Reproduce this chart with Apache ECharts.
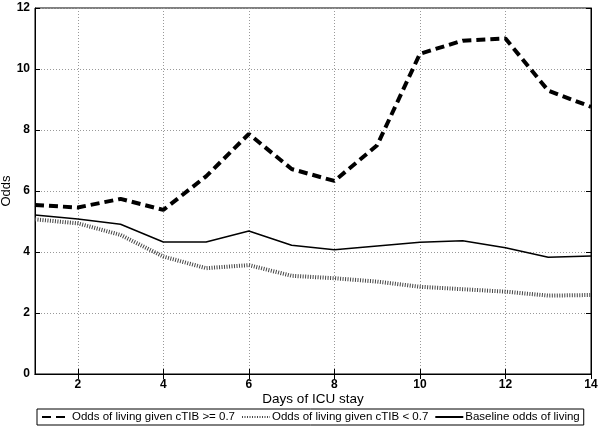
<!DOCTYPE html>
<html>
<head>
<meta charset="utf-8">
<script src="https://cdn.jsdelivr.net/npm/echarts@6/dist/echarts.min.js"></script>
<style>
  html, body { margin: 0; padding: 0; background: #fff; }
  #chart { width: 600px; height: 427px; }
</style>
</head>
<body>
<div id="chart"></div>
<script>
// days on the x axis
var days = [1, 2, 3, 4, 5, 6, 7, 8, 9, 10, 11, 12, 13, 14];
// odds of living
var oddsHigh = [5.54, 5.46, 5.74, 5.38, 6.48, 7.87, 6.72, 6.33, 7.5, 10.5, 10.93, 11.0, 9.29, 8.76];
var oddsLow = [5.07, 4.94, 4.56, 3.85, 3.47, 3.57, 3.22, 3.14, 3.03, 2.86, 2.78, 2.7, 2.57, 2.59];
var oddsBase = [5.21, 5.08, 4.91, 4.33, 4.33, 4.69, 4.22, 4.07, 4.2, 4.32, 4.37, 4.14, 3.83, 3.87];
var seriesNames = [
  "Odds of living given cTIB >= 0.7",
  "Odds of living given cTIB < 0.7",
  "Baseline odds of living"
];

var font = "Liberation Sans";
var evenOnly = function (i, v) { return Number(v) % 2 === 0; };

var chart = echarts.init(document.getElementById("chart"));
chart.setOption({
  animation: false,
  textStyle: { fontFamily: font, color: "#000" },
  grid: {
    left: 35, right: 9, top: 8, bottom: 53,
    containLabel: false,
    outerBoundsMode: "none",
    show: true, borderColor: "#000", borderWidth: 1
  },
  legend: {
    left: 37, bottom: 2,
    padding: [2, 4, 2, 4],
    borderColor: "#000", borderWidth: 1,
    itemGap: 6, itemWidth: 28, itemHeight: 10,
    itemStyle: { opacity: 0 },
    textStyle: { fontFamily: font, fontSize: 11.5, color: "#000", padding: [0, 0, 0, -3] },
    data: seriesNames
  },
  xAxis: [
    {
      type: "category",
      data: days,
      boundaryGap: false,
      name: "Days of ICU stay",
      nameLocation: "middle",
      nameGap: 18,
      nameMoveOverlap: false,
      nameTextStyle: { fontFamily: font, fontSize: 13.5, color: "#000" },
      axisLine: { lineStyle: { color: "#000" } },
      axisTick: { inside: true, length: 5, interval: evenOnly, lineStyle: { color: "#000" } },
      axisLabel: { interval: evenOnly, color: "#000", fontSize: 12, fontWeight: "bold", margin: 5 },
      splitLine: { show: true, interval: evenOnly, lineStyle: { color: "#999", type: [1, 2] } }
    },
    {
      type: "category",
      data: days,
      boundaryGap: false,
      position: "top",
      axisLine: { lineStyle: { color: "#000" } },
      axisTick: { inside: true, length: 5, interval: evenOnly, lineStyle: { color: "#000" } },
      axisLabel: { show: false },
      splitLine: { show: false }
    }
  ],
  yAxis: [
    {
      type: "value",
      min: 0, max: 12, interval: 2,
      name: "Odds",
      nameLocation: "middle",
      nameGap: 22,
      nameMoveOverlap: false,
      nameTextStyle: { fontFamily: font, fontSize: 13, color: "#000" },
      axisLine: { show: true, lineStyle: { color: "#000" } },
      axisTick: { show: true, inside: true, length: 5, lineStyle: { color: "#000" } },
      axisLabel: { color: "#000", fontSize: 12, fontWeight: "bold", margin: 5 },
      splitLine: { show: true, lineStyle: { color: "#999", type: [1, 2] } }
    },
    {
      type: "value",
      min: 0, max: 12, interval: 2,
      position: "right",
      axisLine: { show: true, lineStyle: { color: "#000" } },
      axisTick: { show: true, inside: true, length: 5, lineStyle: { color: "#000" } },
      axisLabel: { show: false },
      splitLine: { show: false }
    }
  ],
  series: [
    {
      name: seriesNames[0],
      type: "line",
      data: oddsHigh,
      symbol: "none",
      itemStyle: { color: "#000" },
      lineStyle: { color: "#000", width: 4, type: [9, 5] }
    },
    {
      name: seriesNames[1],
      type: "line",
      data: oddsLow,
      symbol: "none",
      itemStyle: { color: "#444" },
      lineStyle: { color: "#444", width: 4, type: [1, 1.5] }
    },
    {
      name: seriesNames[2],
      type: "line",
      data: oddsBase,
      symbol: "none",
      itemStyle: { color: "#000" },
      lineStyle: { color: "#000", width: 1.5 }
    }
  ]
});
</script>
</body>
</html>
